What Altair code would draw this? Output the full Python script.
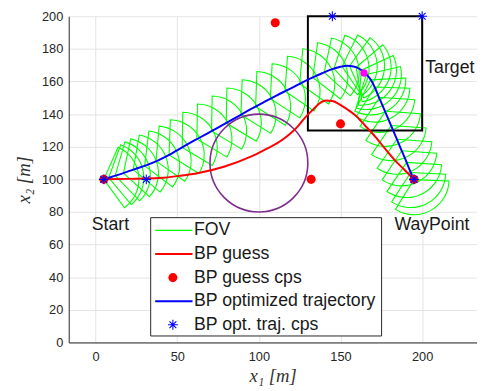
import altair as alt
import pandas as pd

# ---------------- data ----------------
blue_x = [5, 10, 17, 24, 30, 38, 45, 54, 63, 71, 79, 87, 95, 103, 111, 118, 125, 132,
          139, 145, 150, 154, 158, 161.5, 164.5, 167.5, 170.5, 173, 175.5, 178.5, 181.5,
          184.5, 187.5, 190.5, 193, 195]
blue_y = [100, 101.6, 103.8, 106.3, 108.3, 111.5, 115, 120.2, 125.2, 129.6, 134, 138.5,
          143, 147.3, 151.5, 155, 158.6, 162, 165.2, 167.6, 169, 169.6, 169.2, 167.8,
          165.5, 162.5, 157.5, 151.5, 145.8, 138.8, 131.7, 124.6, 117.5, 110.4, 104.2, 99.8]

red_x = [5, 20, 39, 52, 63, 79, 95, 105, 111, 118, 123.4, 128, 133.4, 137, 141, 145,
         149.4, 154, 159.4, 165, 171.4, 177.5, 183.5, 189, 195]
red_y = [100, 100.3, 100.8, 102.2, 103.9, 107.9, 113.9, 118.9, 122, 127, 132, 137.5,
         143, 146.5, 148.3, 148, 146, 143, 139, 133, 126, 118.5, 111.5, 106, 100]

red_cp_x = [5, 110, 132, 150, 195]
red_cp_y = [100, 196, 100, 134, 100]

blue_cp_x = [5, 31, 145, 200, 195]
blue_cp_y = [100, 100, 200, 200, 100]

goal_x = [164.4]
goal_y = [165.2]

fov_x = [5, 8, 12, 17, 23, 30, 37, 45, 53, 62, 71, 80, 89, 98, 107, 116, 125, 133, 140,
         146, 151, 155.5, 159.5, 162.8, 165.8, 168.5, 171, 174, 177.5, 181, 184.5, 187.5,
         190.5, 193, 195]
fov_y = [100, 101, 102.3, 103.8, 106, 108.3, 111.2, 115, 119.6, 124.7, 129.6, 134.5,
         139.6, 144.6, 149.4, 154, 158.6, 162.5, 165.6, 167.9, 169.2, 169.5, 168.7, 166.9,
         164.3, 161, 156.6, 150.3, 141.7, 133, 124.6, 117.5, 110.4, 104.2, 99.8]
fov_heading = [6, 10, 14, 18, 20, 23, 25, 28, 29, 29, 29, 29, 28, 28, 27, 26, 25, 22, 18,
               12, 4, -6, -20, -35, -47, -57, -62, -64, -64, -64, -64, -64, -64, -63, -62]

obs_x = [100]
obs_y = [110]
obs_r = [30]

target_x = [130, 200]
target_y = [130, 200]

annot_text = ["Start", "WayPoint", "Target"]
annot_x = [-2.4, 183, 201.9]
annot_y = [71.8, 72, 168]

legend_labels = ["FOV", "BP guess", "BP guess cps", "BP optimized trajectory",
                 "BP opt. traj. cps"]

# ---------------- layout / style ----------------
X0, X1 = -16.5, 233.3
Y0, Y1 = 0, 200
H = 332
PPU = H / (Y1 - Y0)
W = round((X1 - X0) * PPU)
FOV_R = 21.5
FOV_HALF = 60

GREEN = "#00ff00"
RED = "#ff0000"
BLUE = "#0000ff"
PURPLE = "#7e2f8e"
MAGENTA = "#ff00ff"
DARK = "#262626"
STAR = "M-1,0L1,0M0,-1L0,1M-0.7,-0.7L0.7,0.7M-0.7,0.7L0.7,-0.7"

xs = alt.Scale(domain=[X0, X1], nice=False, zero=False)
ys = alt.Scale(domain=[Y0, Y1], nice=False, zero=False)
xaxis = alt.Axis(values=[0, 50, 100, 150, 200], title="x₁ [m]", labelPadding=8,
                 titlePadding=4)
yaxis = alt.Axis(values=list(range(0, 201, 20)), title="x₂ [m]", labelPadding=6,
                 titlePadding=8)


def X(f):
    return alt.X(f, scale=xs, axis=xaxis)


def Y(f):
    return alt.Y(f, scale=ys, axis=yaxis)


# FOV sectors
fov_df = pd.DataFrame({"x": fov_x, "y": fov_y, "h": fov_heading})
fov = alt.Chart(fov_df).transform_calculate(
    t0=f"(90 - datum.h - {FOV_HALF}) * PI / 180",
    t1=f"(90 - datum.h + {FOV_HALF}) * PI / 180",
).mark_arc(filled=False, stroke=GREEN, strokeWidth=1.1, fillOpacity=0).encode(
    x=X("x:Q"), y=Y("y:Q"),
    theta=alt.Theta("t0:Q", scale=None, stack=False),
    theta2="t1:Q",
    radius=alt.value(FOV_R * PPU),
)

# obstacle circle
obs_df = pd.DataFrame({"x": obs_x, "y": obs_y, "r": obs_r})
obstacle = alt.Chart(obs_df).transform_calculate(
    rp=f"datum.r * {PPU}", t0="0", t1="2 * PI + 0.001"
).mark_arc(filled=False, stroke=PURPLE, strokeWidth=1.6, fillOpacity=0).encode(
    x=X("x:Q"), y=Y("y:Q"),
    theta=alt.Theta("t0:Q", scale=None, stack=False),
    theta2="t1:Q",
    radius=alt.Radius("rp:Q", scale=None),
)

# target box
tgt_df = pd.DataFrame({"x": [target_x[0]], "x1": [target_x[1]],
                       "y": [target_y[0]], "y1": [target_y[1]]})
target = alt.Chart(tgt_df).mark_rect(filled=False, stroke="#000000", strokeWidth=2,
                                     fillOpacity=0).encode(
    x=X("x:Q"), x2="x1:Q", y=Y("y:Q"), y2="y1:Q")

red_df = pd.DataFrame({"x": red_x, "y": red_y, "o": range(len(red_x))})
red_line = alt.Chart(red_df).mark_line(color=RED, strokeWidth=2, interpolate="monotone").encode(
    x=X("x:Q"), y=Y("y:Q"), order="o:Q")

blue_df = pd.DataFrame({"x": blue_x, "y": blue_y, "o": range(len(blue_x))})
blue_line = alt.Chart(blue_df).mark_line(color=BLUE, strokeWidth=2, interpolate="monotone").encode(
    x=X("x:Q"), y=Y("y:Q"), order="o:Q")

red_pts = alt.Chart(pd.DataFrame({"x": red_cp_x, "y": red_cp_y})).mark_circle(
    size=85, color=RED, opacity=1).encode(x=X("x:Q"), y=Y("y:Q"))

blue_pts = alt.Chart(pd.DataFrame({"x": blue_cp_x, "y": blue_cp_y})).mark_point(
    shape=STAR, size=100, filled=False, stroke=BLUE, strokeWidth=1.1, opacity=1).encode(
    x=X("x:Q"), y=Y("y:Q"))

goal = alt.Chart(pd.DataFrame({"x": goal_x, "y": goal_y})).mark_circle(
    size=55, color=MAGENTA, opacity=1).encode(x=X("x:Q"), y=Y("y:Q"))

annots = alt.Chart(pd.DataFrame({"x": annot_x, "y": annot_y, "t": annot_text})).mark_text(
    align="left", baseline="middle", font="Liberation Sans", fontSize=18, color="#1a1a1a"
).encode(x=X("x:Q"), y=Y("y:Q"), text="t:N")

# ---------------- legend (pixel layout inside the plot area) ----------------
LB_L, LB_T, LB_R, LB_B = 83.4, 205, 318.4, 325.4
ROW0, ROWSTEP = 218, 24
SAMPLE_X1, SAMPLE_X2, SYM_X, TXT_X = 88, 126, 106, 127.5
one = pd.DataFrame({"k": [0]})

legend_layers = [
    alt.Chart(one).mark_rect(fill="white", stroke=DARK, strokeWidth=1).encode(
        x=alt.value(LB_L), x2=alt.value(LB_R), y=alt.value(LB_T), y2=alt.value(LB_B))
]
styles = [("line", GREEN, 1.2), ("line", RED, 2), ("dot", RED, 0),
          ("line", BLUE, 2), ("star", BLUE, 0)]
for i, (lab, (kind, col, sw)) in enumerate(zip(legend_labels, styles)):
    ry = ROW0 + i * ROWSTEP
    if kind == "line":
        legend_layers.append(alt.Chart(one).mark_rule(color=col, strokeWidth=sw).encode(
            x=alt.value(SAMPLE_X1), x2=alt.value(SAMPLE_X2), y=alt.value(ry)))
    elif kind == "dot":
        legend_layers.append(alt.Chart(one).mark_circle(size=85, color=col, opacity=1).encode(
            x=alt.value(SYM_X), y=alt.value(ry)))
    else:
        legend_layers.append(alt.Chart(one).mark_point(
            shape=STAR, size=100, filled=False, stroke=col, strokeWidth=1.1, opacity=1).encode(
            x=alt.value(SYM_X), y=alt.value(ry)))
    legend_layers.append(alt.Chart(pd.DataFrame({"t": [lab]})).mark_text(
        align="left", baseline="middle", font="Liberation Sans", fontSize=18,
        color="#1a1a1a").encode(x=alt.value(TXT_X), y=alt.value(ry), text="t:N"))

chart = alt.layer(
    fov, obstacle, target, red_line, blue_line, red_pts, blue_pts, goal, annots,
    *legend_layers
).properties(
    width=W, height=H,
    autosize=alt.AutoSizeParams(type="none"),
    padding={"left": 61.8, "top": 5, "right": 0.5, "bottom": 45},
).configure_view(stroke=None).configure_axis(
    domainColor=DARK, domainWidth=1, gridColor="#e3e3e3", gridWidth=1, ticks=False,
    labelFont="Liberation Sans", labelFontSize=13, labelColor=DARK,
    titleFont="Liberation Serif", titleFontSize=19, titleFontStyle="italic",
    titleFontWeight="normal", titleColor="#333333",
)

chart.save("out.html", embed_options={"renderer": "svg", "actions": False})
